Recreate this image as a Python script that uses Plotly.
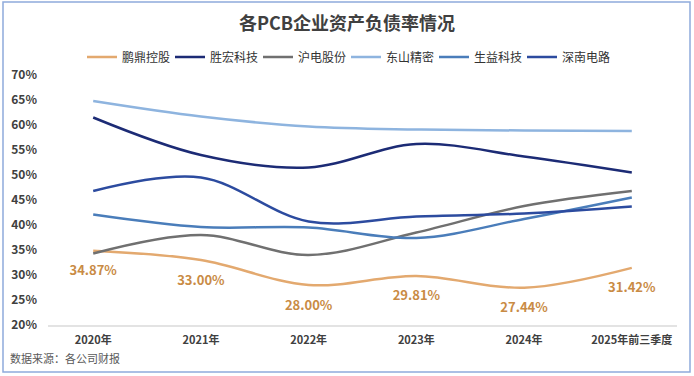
import plotly.graph_objects as go

categories = ["2020年", "2021年", "2022年", "2023年", "2024年", "2025年前三季度"]
pengding = [34.87, 33.00, 28.00, 29.81, 27.44, 31.42]
shenghong = [61.5, 54.0, 51.5, 56.2, 53.7, 50.5]
hudian = [34.3, 38.0, 34.0, 38.5, 43.8, 46.8]
dongshan = [64.8, 61.7, 59.7, 59.1, 58.9, 58.8]
shengyi = [42.1, 39.6, 39.5, 37.4, 41.2, 45.5]
shennan = [46.8, 49.5, 40.7, 41.7, 42.3, 43.7]
y_ticks = [20, 25, 30, 35, 40, 45, 50, 55, 60, 65, 70]

FONT = "Noto Sans CJK SC"

series = [
    ("鹏鼎控股", pengding, "#E3A96F"),
    ("胜宏科技", shenghong, "#1C2B75"),
    ("沪电股份", hudian, "#707070"),
    ("东山精密", dongshan, "#8EB4DF"),
    ("生益科技", shengyi, "#4A7DBA"),
    ("深南电路", shennan, "#2C4B9F"),
]

fig = go.Figure()
for name, vals, color in series:
    if name == "鹏鼎控股":
        kw = dict(
            mode="lines+markers+text",
            marker=dict(size=22, color="rgba(0,0,0,0)"),
            text=[f"{v:.2f}%" for v in vals],
            textposition="bottom center",
            textfont=dict(family=FONT, size=13, color="#C98B45", weight="bold"),
        )
    else:
        kw = dict(mode="lines")
    fig.add_trace(go.Scatter(
        x=categories, y=vals, name=name,
        line=dict(color=color, width=2.5, shape="spline", smoothing=1.0),
        cliponaxis=False, hoverinfo="x+y+name",
        **kw,
    ))

fig.update_layout(
    width=694, height=376,
    margin=dict(l=48, r=17, t=75, b=51, autoexpand=False),
    paper_bgcolor="white", plot_bgcolor="white",
    title=dict(text="<b>各PCB企业资产负债率情况</b>", x=0.5, xanchor="center",
               y=1 - 24 / 376, yanchor="middle",
               font=dict(family=FONT, size=18, color="#404040")),
    legend=dict(orientation="h", x=(82 - 48) / 629, xanchor="left", y=1.0 + 18 / 250, yanchor="middle",
                font=dict(family=FONT, size=12, color="#333333"),
                entrywidth=43, entrywidthmode="pixels", tracegroupgap=0),
    font=dict(family=FONT),
    showlegend=True,
)
fig.update_xaxes(
    type="category", showgrid=False, showline=True, linecolor="#E3E3E3", linewidth=1.5,
    ticks="", ticklabelstandoff=4, automargin=False,
    tickfont=dict(family=FONT, size=11, color="#404040", weight="bold"),
    zeroline=False,
)
fig.update_yaxes(
    range=[20, 70], tickvals=y_ticks, ticktext=[f"{v}%" for v in y_ticks],
    showgrid=False, zeroline=False, showline=False, ticks="",
    ticklabelstandoff=10, automargin=False,
    tickfont=dict(family=FONT, size=12, color="#404040", weight="bold"),
)
# outer frame
fig.add_shape(type="rect", xref="paper", yref="paper",
              x0=(3 - 48) / 629, x1=(690 - 48) / 629,
              y0=(325 - 372) / 250, y1=(325 - 2) / 250,
              line=dict(color="#8FAADC", width=1.5), layer="below")
fig.add_annotation(text="数据来源：各公司财报", xref="paper", yref="paper",
                   x=(8 - 48) / 629, xanchor="left", y=(325 - 358) / 250, yanchor="middle",
                   showarrow=False, font=dict(family=FONT, size=11, color="#595959"))

fig.write_html("out.html", config={"displayModeBar": False},
               post_script="document.body.style.margin='0';document.body.style.overflow='hidden';")
